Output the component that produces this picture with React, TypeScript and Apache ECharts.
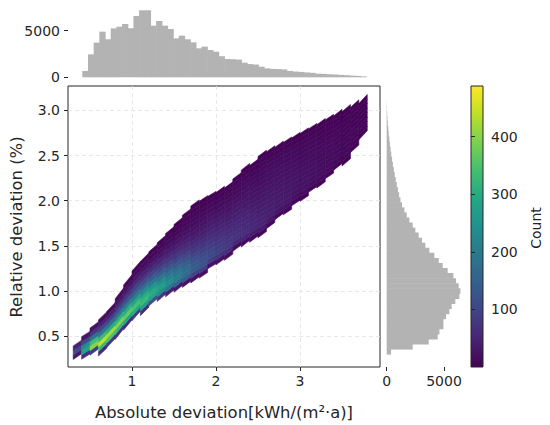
import React, { useEffect, useRef } from 'react';
import * as echarts from 'echarts';

// ---------- tick labels ----------
const X_TICKS = [1, 2, 3];
const Y_TICKS = [0.5, 1.0, 1.5, 2.0, 2.5, 3.0];
const HIST_TICKS = [0, 5000];
const CBAR_TICKS = [100, 200, 300, 400];

// ---------- hexbin (binned counts) ----------
const CELL_W = 0.1;
const CELL_H = 0.05;
const HEX_COL_X = [
  0.35, 0.45, 0.55, 0.65, 0.75, 0.85, 0.95, 1.05, 1.15, 1.25, 1.35, 1.45,
  1.55, 1.65, 1.75, 1.85, 1.95, 2.05, 2.15, 2.25, 2.35, 2.45, 2.55, 2.65,
  2.75, 2.85, 2.95, 3.05, 3.15, 3.25, 3.35, 3.45, 3.55, 3.65, 3.75,
];
const HEX_COL_Y0 = [
  0.30, 0.30, 0.35, 0.35, 0.45, 0.55, 0.65, 0.75, 0.80, 0.90, 0.95, 1.00,
  1.05, 1.10, 1.15, 1.20, 1.30, 1.35, 1.40, 1.50, 1.55, 1.60, 1.65, 1.75,
  1.85, 1.90, 2.00, 2.05, 2.15, 2.20, 2.30, 2.40, 2.45, 2.60, 2.75,
];
const HEX_COUNTS = [
  [35, 110, 45],
  [70, 280, 230, 110, 30],
  [90, 400, 340, 190, 80, 25],
  [60, 330, 440, 330, 200, 110, 50, 18],
  [80, 350, 420, 300, 180, 100, 45, 16],
  [70, 320, 395, 310, 200, 120, 65, 30, 12],
  [60, 290, 370, 310, 220, 140, 85, 48, 24, 10],
  [90, 300, 345, 290, 210, 145, 95, 60, 35, 18, 8],
  [60, 270, 330, 300, 240, 180, 125, 82, 50, 29, 15, 7],
  [120, 280, 300, 260, 200, 148, 102, 68, 42, 24, 12, 6],
  [80, 230, 270, 245, 195, 150, 110, 76, 50, 32, 19, 10, 5],
  [45, 190, 235, 220, 182, 145, 110, 80, 57, 39, 26, 15, 9, 5],
  [35, 160, 205, 195, 168, 136, 105, 80, 60, 44, 31, 21, 13, 8, 4],
  [28, 132, 172, 168, 148, 123, 98, 77, 60, 45, 33, 24, 16, 11, 7, 4],
  [20, 100, 140, 138, 122, 103, 85, 68, 54, 42, 33, 25, 18, 13, 9, 6, 3],
  [20, 90, 120, 118, 106, 92, 78, 65, 53, 43, 34, 27, 20, 15, 10, 6, 3],
  [25, 85, 105, 100, 90, 79, 68, 57, 47, 39, 31, 24, 18, 13, 8, 4],
  [20, 72, 92, 88, 80, 70, 61, 52, 44, 37, 30, 24, 18, 13, 8, 4],
  [18, 62, 80, 77, 70, 62, 54, 47, 40, 34, 28, 23, 18, 13, 8, 4],
  [16, 55, 70, 68, 62, 56, 49, 43, 37, 32, 27, 22, 17, 13, 8, 4],
  [14, 48, 62, 61, 56, 51, 45, 40, 35, 30, 26, 22, 18, 14, 10, 7, 3],
  [12, 42, 55, 54, 50, 46, 41, 37, 33, 29, 25, 21, 18, 14, 10, 7, 3],
  [10, 36, 48, 47, 45, 42, 38, 34, 31, 28, 25, 22, 19, 16, 13, 10, 6, 3],
  [10, 32, 42, 41, 39, 37, 34, 31, 28, 25, 22, 20, 17, 14, 11, 7, 3],
  [10, 29, 37, 37, 35, 33, 31, 28, 26, 23, 21, 18, 15, 12, 8, 4],
  [9, 25, 32, 32, 31, 29, 27, 25, 23, 21, 19, 16, 14, 11, 7, 3],
  [8, 22, 28, 28, 27, 26, 24, 22, 20, 18, 16, 14, 11, 7, 3],
  [7, 19, 25, 25, 24, 23, 21, 20, 18, 16, 14, 12, 10, 6, 3],
  [6, 17, 22, 22, 21, 20, 19, 17, 16, 14, 12, 10, 6, 3],
  [5, 15, 19, 19, 18, 17, 16, 15, 14, 12, 10, 8, 5, 3],
  [5, 13, 16, 16, 15, 15, 14, 13, 11, 10, 8, 5, 3],
  [4, 11, 14, 14, 13, 13, 12, 11, 9, 7, 5, 3],
  [4, 9, 12, 12, 11, 11, 10, 9, 8, 6, 4, 2],
  [3, 8, 10, 10, 9, 8, 7, 6, 4, 2],
  [3, 6, 8, 7, 6, 5, 3, 2],
];

// ---------- marginal histograms ----------
const TOP_BIN_START = 0.412;
const TOP_BIN_WIDTH = 0.0676;
const TOP_COUNTS = [
  680, 2460, 3720, 4900, 4080, 5250, 5430, 5720, 5250, 6580,
  7190, 7190, 5540, 6040, 5540, 5180, 4180, 4470, 4080, 3750,
  3110, 3290, 2930, 2750, 2260, 1960, 1940, 1900, 1570, 1420,
  1370, 1140, 960, 900, 880, 850, 680, 620, 580, 520,
  480, 390, 370, 330, 300, 260, 230, 180, 150, 100,
];
const RIGHT_BIN_START = 0.30;
const RIGHT_BIN_WIDTH = 0.056;
const RIGHT_COUNTS = [
  380, 2270, 3665, 4450, 4600, 4945, 4945, 5180, 5470, 5670,
  5990, 6340, 6430, 6280, 6050, 5820, 5320, 4890, 4540, 4160,
  3725, 3375, 3085, 2790, 2500, 2270, 1980, 1745, 1545, 1335,
  1200, 1080, 980, 880, 790, 700, 620, 540, 470, 400,
  340, 280, 230, 180, 140, 100, 70, 45, 25, 10,
];

const COUNT_MIN = 1;
const COUNT_MAX = 488;
const VIRIDIS = [
  '#440154', '#482475', '#414487', '#355f8d', '#2a788e', '#21918c',
  '#22a884', '#44bf70', '#7ad151', '#bddf26', '#fde725',
];

const FONT = 'DejaVu Sans';
const TXT = '#262626';
const HIST_COLOR = '#b3b3b3';

export default function App() {
  const ref = useRef<HTMLDivElement>(null);

  useEffect(() => {
    if (!ref.current) return;
    const chart = echarts.init(ref.current, null, { renderer: 'svg' });

    // local band slope per column (from neighbouring column mid-points), used to shear cells
    const mids = HEX_COL_X.map((_, i) => HEX_COL_Y0[i] + ((HEX_COUNTS[i].length - 1) * CELL_H) / 2);
    const slopes = HEX_COL_X.map((_, i) => {
      const a = Math.max(0, i - 2);
      const b = Math.min(HEX_COL_X.length - 1, i + 2);
      return (mids[b] - mids[a]) / (HEX_COL_X[b] - HEX_COL_X[a]);
    });

    const hexData: number[][] = [];
    HEX_COL_X.forEach((x, i) => {
      HEX_COUNTS[i].forEach((c, j) => {
        const y = Math.round((HEX_COL_Y0[i] + j * CELL_H) * 1000) / 1000;
        hexData.push([x, y, c, slopes[i]]);
      });
    });
    const topData = TOP_COUNTS.map((c, i) => [
      TOP_BIN_START + i * TOP_BIN_WIDTH,
      TOP_BIN_START + (i + 1) * TOP_BIN_WIDTH,
      c,
    ]);
    const rightData = RIGHT_COUNTS.map((c, i) => [
      c,
      RIGHT_BIN_START + i * RIGHT_BIN_WIDTH,
      RIGHT_BIN_START + (i + 1) * RIGHT_BIN_WIDTH,
    ]);

    const tickStyle = { color: TXT, width: 1 };
    const labelStyle = { fontSize: 14, color: TXT, fontFamily: FONT };
    const plain = (v: number) => String(v);

    const option: any = {
      animation: false,
      grid: [
        { left: 68, top: 86, width: 312, height: 281, show: true, borderColor: TXT, borderWidth: 1, backgroundColor: 'transparent' },
        { left: 68, top: 5, width: 312, height: 72.3 },
        { left: 386.7, top: 86, width: 76, height: 281 },
        { left: 471, top: 86, width: 12, height: 281 },
      ],
      xAxis: [
        {
          gridIndex: 0, type: 'value', min: 0.238, max: 3.952,
          axisLine: { show: false },
          axisTick: { show: true, customValues: X_TICKS, length: 4, lineStyle: tickStyle },
          axisLabel: { customValues: X_TICKS, margin: 7, formatter: plain, ...labelStyle },
          splitLine: { show: true, lineStyle: { color: '#e2e2e2', type: [4, 3], width: 0.8 } },
        },
        { gridIndex: 1, type: 'value', min: 0.238, max: 3.952, show: false, splitLine: { show: false } },
        {
          gridIndex: 2, type: 'value', min: 0, max: 6632,
          axisLine: { show: false },
          axisTick: { show: true, customValues: HIST_TICKS, length: 4, lineStyle: tickStyle },
          axisLabel: { customValues: HIST_TICKS, margin: 7, formatter: plain, ...labelStyle },
          splitLine: { show: false },
        },
        { gridIndex: 3, type: 'value', min: 0, max: 1, show: false, splitLine: { show: false } },
      ],
      yAxis: [
        {
          gridIndex: 0, type: 'value', min: 0.16, max: 3.27,
          axisLine: { show: false },
          axisTick: { show: true, customValues: Y_TICKS, length: 4, lineStyle: tickStyle },
          axisLabel: { customValues: Y_TICKS, margin: 8, formatter: (v: number) => v.toFixed(1), ...labelStyle },
          splitLine: { show: true, lineStyle: { color: '#e2e2e2', type: [4, 3], width: 0.8 } },
        },
        {
          gridIndex: 1, type: 'value', min: 0, max: 7758,
          axisLine: { show: false },
          axisTick: { show: true, customValues: HIST_TICKS, length: 4, lineStyle: tickStyle },
          axisLabel: { customValues: HIST_TICKS, margin: 8, formatter: plain, ...labelStyle },
          splitLine: { show: false },
        },
        { gridIndex: 2, type: 'value', min: 0.16, max: 3.27, show: false, splitLine: { show: false } },
        {
          gridIndex: 3, type: 'value', min: 0, max: COUNT_MAX, position: 'right',
          axisLine: { show: false },
          axisTick: { show: true, customValues: CBAR_TICKS, length: 4, lineStyle: tickStyle },
          axisLabel: { customValues: CBAR_TICKS, margin: 8, formatter: plain, ...labelStyle },
          splitLine: { show: false },
        },
      ],
      visualMap: {
        type: 'continuous', show: false, min: COUNT_MIN, max: COUNT_MAX,
        dimension: 2, seriesIndex: 0, inRange: { color: VIRIDIS },
      },
      series: [
        {
          type: 'custom', xAxisIndex: 0, yAxisIndex: 0, clip: true,
          encode: { x: 0, y: 1 },
          data: hexData,
          renderItem: (params: any, api: any) => {
            const x = api.value(0);
            const y = api.value(1);
            const s = api.value(3);
            const hw = CELL_W / 2;
            const hh = CELL_H / 2;
            const pts = [
              api.coord([x - hw, y - s * hw - hh]),
              api.coord([x + hw, y + s * hw - hh]),
              api.coord([x + hw, y + s * hw + hh]),
              api.coord([x - hw, y - s * hw + hh]),
            ];
            const color = api.visual('color');
            return {
              type: 'polygon',
              shape: { points: pts },
              style: { fill: color, stroke: color, lineWidth: 0.6 },
            };
          },
        },
        {
          type: 'custom', xAxisIndex: 1, yAxisIndex: 1,
          encode: { x: [0, 1], y: 2 },
          data: topData,
          renderItem: (params: any, api: any) => {
            const p0 = api.coord([api.value(0), api.value(2)]);
            const p1 = api.coord([api.value(1), 0]);
            return {
              type: 'rect',
              shape: { x: p0[0] - 0.3, y: p0[1], width: p1[0] - p0[0] + 0.6, height: p1[1] - p0[1] },
              style: { fill: HIST_COLOR },
            };
          },
        },
        {
          type: 'custom', xAxisIndex: 2, yAxisIndex: 2,
          encode: { x: 0, y: [1, 2] },
          data: rightData,
          renderItem: (params: any, api: any) => {
            const a = api.coord([0, api.value(2)]);
            const b = api.coord([api.value(0), api.value(1)]);
            return {
              type: 'rect',
              shape: { x: a[0], y: a[1] - 0.3, width: b[0] - a[0], height: b[1] - a[1] + 0.6 },
              style: { fill: HIST_COLOR },
            };
          },
        },
      ],
      graphic: [
        {
          type: 'rect',
          shape: { x: 471, y: 86, width: 12, height: 281 },
          style: {
            fill: new echarts.graphic.LinearGradient(0, 1, 0, 0,
              VIRIDIS.map((c, i) => ({ offset: i / (VIRIDIS.length - 1), color: c }))),
            stroke: TXT, lineWidth: 1,
          },
        },
        {
          type: 'text', x: 224, y: 412,
          style: { text: 'Absolute deviation[kWh/(m²·a)]', fontSize: 16.4, fontFamily: FONT, fill: TXT, align: 'center', verticalAlign: 'middle' },
        },
        {
          type: 'text', x: 16, y: 227, rotation: Math.PI / 2,
          style: { text: 'Relative deviation (%)', fontSize: 16.4, fontFamily: FONT, fill: TXT, align: 'center', verticalAlign: 'middle' },
        },
        {
          type: 'text', x: 536, y: 228, rotation: Math.PI / 2,
          style: { text: 'Count', fontSize: 14, fontFamily: FONT, fill: TXT, align: 'center', verticalAlign: 'middle' },
        },
      ],
    };

    chart.setOption(option);
    return () => chart.dispose();
  }, []);

  return (
    <div
      ref={ref}
      style={{ position: 'absolute', left: 0, top: 0, width: 550, height: 425, background: '#fff' }}
    />
  );
}
